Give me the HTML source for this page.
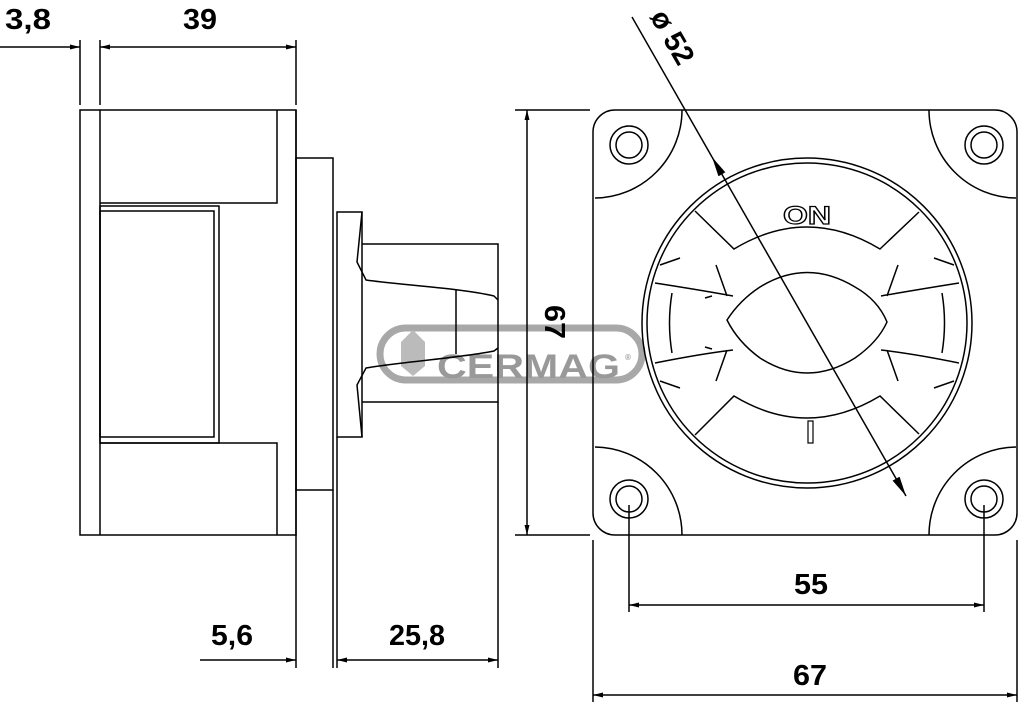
<!DOCTYPE html>
<html><head><meta charset="utf-8"><style>
html,body{margin:0;padding:0;background:#fff;}
svg{display:block;}
text{font-family:"Liberation Sans",sans-serif;font-weight:bold;}
</style></head><body>
<svg width="1024" height="708" viewBox="0 0 1024 708" xmlns="http://www.w3.org/2000/svg">
<defs>
<marker id="a" viewBox="0 0 10 6" refX="10" refY="3" markerWidth="10" markerHeight="6" orient="auto-start-reverse" markerUnits="userSpaceOnUse"><path d="M0,0.5 L10,3 L0,5.5Z" fill="#000"/></marker>
<marker id="b" viewBox="0 0 20 8" refX="20" refY="4" markerWidth="20" markerHeight="8" orient="auto-start-reverse" markerUnits="userSpaceOnUse"><path d="M0,0 L20,4 L0,8Z" fill="#000"/></marker>
</defs>
<!-- watermark -->
<g>
<rect x="380" y="328" width="262" height="52" rx="26" fill="none" stroke="#a8a8a8" stroke-width="7"/>
<text x="437" y="378" font-size="34" fill="#999" textLength="183" lengthAdjust="spacingAndGlyphs">CERMAG</text>
<text x="625" y="360" font-size="8" fill="#999">®</text>
<path d="M413,330 l-12,12 v24 l12,10 l12,-10 v-24z" fill="#bbb"/>
</g>
<g fill="none" stroke="#000" stroke-width="1.5">
<!-- side view -->
<rect x="80" y="110" width="216" height="425"/>
<line x1="100" y1="110" x2="100" y2="535"/>
<path d="M100,203 H277 V110"/>
<path d="M100,443 H277 V535"/>
<rect x="100" y="206" width="119" height="237"/>
<rect x="100" y="211" width="114" height="226"/>
<line x1="296" y1="110" x2="296" y2="668"/>
<rect x="296" y="158" width="37" height="332"/>
<line x1="333" y1="490" x2="333" y2="668"/>
<rect x="337" y="212" width="25" height="225"/>
<path d="M362,244 H498 V402 H362"/>
<path d="M362,212 L357,262 L366,280 C400,285 460,288 494,296 L498,300"/>
<path d="M362,437 L357,385 L366,368 C400,362 460,358 494,351 L498,348"/>
<line x1="456" y1="290" x2="456" y2="354"/>
<line x1="498" y1="402" x2="498" y2="668"/>
<line x1="337" y1="437" x2="337" y2="668"/>
<!-- dims left -->
<line x1="80" y1="40" x2="80" y2="105"/>
<line x1="100" y1="40" x2="100" y2="105"/>
<line x1="296" y1="40" x2="296" y2="105"/>
<line x1="0" y1="47" x2="80" y2="47" marker-end="url(#a)"/>
<line x1="100" y1="47" x2="296" y2="47" marker-start="url(#a)" marker-end="url(#a)"/>
<line x1="200" y1="660" x2="296" y2="660" marker-end="url(#a)"/>
<line x1="337" y1="660" x2="498" y2="660" marker-start="url(#a)" marker-end="url(#a)"/>
<!-- right vertical dim -->
<line x1="515" y1="110" x2="590" y2="110"/>
<line x1="515" y1="535" x2="590" y2="535"/>
<line x1="527" y1="110" x2="527" y2="535" marker-start="url(#a)" marker-end="url(#a)"/>
<!-- front view -->
<rect x="593" y="110" width="424" height="425" rx="22"/>
<path d="M595,198 A88,88 0 0 0 682,110"/>
<path d="M929,110 A88,88 0 0 0 1016,198"/>
<path d="M595,447 A88,88 0 0 1 682,535"/>
<path d="M929,535 A88,88 0 0 1 1016,447"/>
<circle cx="629" cy="145" r="19"/><circle cx="629" cy="145" r="13"/>
<circle cx="984" cy="145" r="19"/><circle cx="984" cy="145" r="13"/>
<circle cx="629" cy="499" r="19"/><circle cx="629" cy="499" r="13"/>
<circle cx="984" cy="499" r="19"/><circle cx="984" cy="499" r="13"/>
<circle cx="807" cy="323" r="165"/>
<circle cx="807" cy="323" r="160"/>
<path d="M695,211 L734,249 Q807,205 880,249 L919,212"/>
<path d="M695,435 L734,396 Q807,440 880,396 L919,434"/>
<path d="M727,320 Q740,300 760,287 Q807,258 855,287 Q878,300 887,322 Q878,342 855,358 Q807,388 760,358 Q738,342 727,320Z"/>
<path d="M672,293 Q667,323 672,353"/>
<path d="M942,293 Q947,323 942,353"/>
<path d="M655,283 Q700,290 733,296 M660,265 L680,258 M716,265 L727,296 M705,298 L712,296"/>
<path d="M655,363 Q700,354 733,350 M660,381 L680,388 M716,381 L727,350 M705,347 L712,349"/>
<path d="M959,283 Q915,290 881,296 M954,265 L934,258 M898,265 L887,296"/>
<path d="M959,363 Q915,354 881,350 M954,381 L934,388 M898,381 L887,350"/>
<!-- diameter -->
<line x1="632" y1="17" x2="712" y2="157"/>
<line x1="712" y1="157" x2="906" y2="496" marker-start="url(#b)" marker-end="url(#b)"/>
<!-- bottom dims -->
<line x1="629" y1="505" x2="629" y2="612"/>
<line x1="984" y1="505" x2="984" y2="612"/>
<line x1="629" y1="605" x2="984" y2="605" marker-start="url(#a)" marker-end="url(#a)"/>
<line x1="593" y1="540" x2="593" y2="702"/>
<line x1="1017" y1="540" x2="1017" y2="702"/>
<line x1="593" y1="695" x2="1017" y2="695" marker-start="url(#a)" marker-end="url(#a)"/>
</g>
<text x="807" y="224" font-size="25" text-anchor="middle" fill="#fff" stroke="#000" stroke-width="1.2" font-weight="normal" textLength="48" lengthAdjust="spacingAndGlyphs">ON</text>
<rect x="808" y="421" width="5" height="22" fill="#fff" stroke="#000" stroke-width="1.2"/>
<g font-size="29" fill="#000">
<text x="28" y="29" text-anchor="middle" textLength="46" lengthAdjust="spacingAndGlyphs">3,8</text>
<text x="200" y="29" text-anchor="middle" textLength="34" lengthAdjust="spacingAndGlyphs">39</text>
<text x="232" y="645" text-anchor="middle" textLength="42" lengthAdjust="spacingAndGlyphs">5,6</text>
<text x="417" y="645" text-anchor="middle" textLength="56" lengthAdjust="spacingAndGlyphs">25,8</text>
<text x="811" y="594" text-anchor="middle" textLength="34" lengthAdjust="spacingAndGlyphs">55</text>
<text x="810" y="685" text-anchor="middle" textLength="34" lengthAdjust="spacingAndGlyphs">67</text>
<text transform="translate(545,322) rotate(90)" text-anchor="middle" textLength="34" lengthAdjust="spacingAndGlyphs">67</text>
<text transform="translate(664,42) rotate(60)" text-anchor="middle">ø 52</text>
</g>
</svg>
</body></html>
